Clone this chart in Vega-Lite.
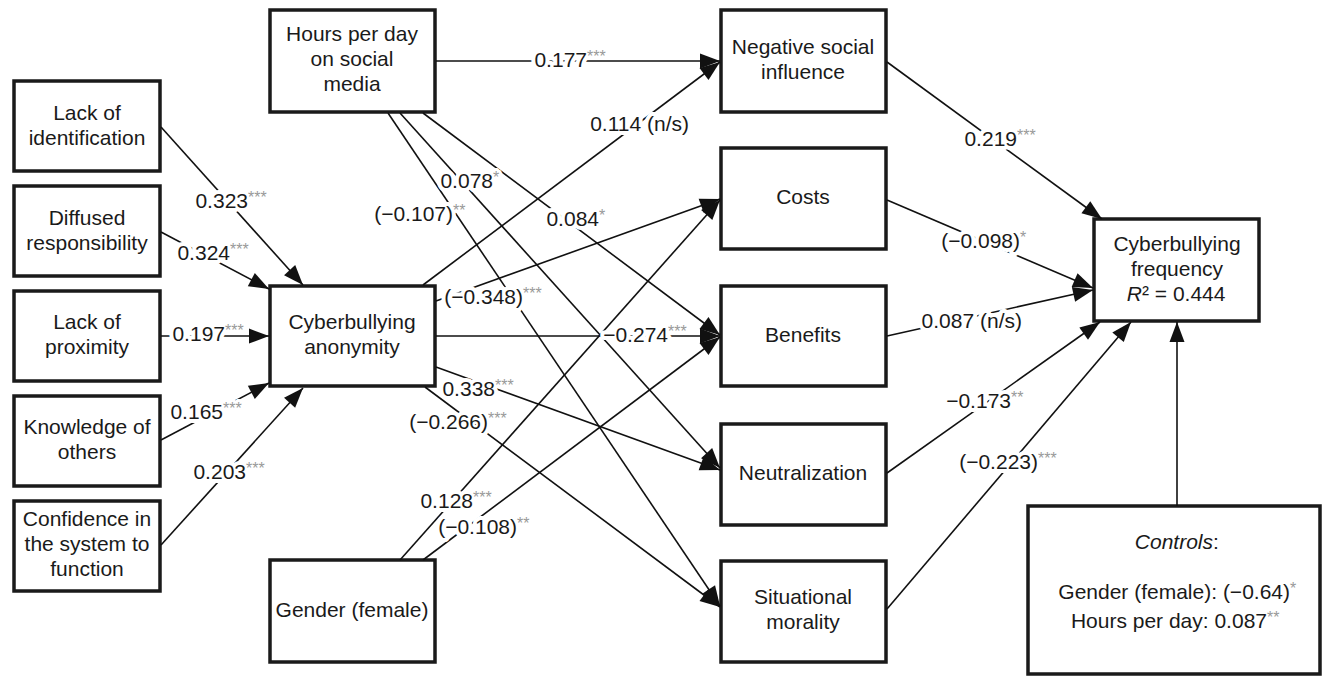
{
  "$schema": "https://vega.github.io/schema/vega-lite/v6.json",
  "width": 1323,
  "height": 677,
  "autosize": {"type": "fit", "contains": "padding"},
  "padding": 0,
  "background": "white",
  "config": {"view": {"stroke": null}},
  "datasets": {
    "boxes": [
      {"id": "Lack of identification", "x1": 14, "x2": 160, "y1": 81, "y2": 171},
      {"id": "Diffused responsibility", "x1": 14, "x2": 160, "y1": 186, "y2": 276},
      {"id": "Lack of proximity", "x1": 14, "x2": 160, "y1": 291, "y2": 381},
      {"id": "Knowledge of others", "x1": 14, "x2": 160, "y1": 396, "y2": 486},
      {"id": "Confidence in the system to function", "x1": 14, "x2": 160, "y1": 501, "y2": 591},
      {"id": "Hours per day on social media", "x1": 270, "x2": 435, "y1": 10, "y2": 112},
      {"id": "Cyberbullying anonymity", "x1": 270, "x2": 435, "y1": 286, "y2": 386},
      {"id": "Gender (female)", "x1": 270, "x2": 435, "y1": 560, "y2": 662},
      {"id": "Negative social influence", "x1": 721, "x2": 886, "y1": 10, "y2": 112},
      {"id": "Costs", "x1": 721, "x2": 886, "y1": 148, "y2": 249},
      {"id": "Benefits", "x1": 721, "x2": 886, "y1": 286, "y2": 386},
      {"id": "Neutralization", "x1": 721, "x2": 886, "y1": 424, "y2": 525},
      {"id": "Situational morality", "x1": 721, "x2": 886, "y1": 561, "y2": 662},
      {"id": "Cyberbullying frequency", "x1": 1094, "x2": 1259, "y1": 219, "y2": 321},
      {"id": "Controls", "x1": 1028, "x2": 1320, "y1": 506, "y2": 674}
    ],
    "boxlabels": [
      {"label": "Lack of\nidentification", "x": 87, "y": 114},
      {"label": "Diffused\nresponsibility", "x": 87, "y": 219},
      {"label": "Lack of\nproximity", "x": 87, "y": 323},
      {"label": "Knowledge of\nothers", "x": 87, "y": 428},
      {"label": "Confidence in\nthe system to\nfunction", "x": 87, "y": 520},
      {"label": "Hours per day\non social\nmedia", "x": 352, "y": 35},
      {"label": "Cyberbullying\nanonymity", "x": 352, "y": 323},
      {"label": "Gender (female)", "x": 352, "y": 611},
      {"label": "Negative social\ninfluence", "x": 803, "y": 48},
      {"label": "Costs", "x": 803, "y": 198},
      {"label": "Benefits", "x": 803, "y": 336},
      {"label": "Neutralization", "x": 803, "y": 474},
      {"label": "Situational\nmorality", "x": 803, "y": 598},
      {"label": "Cyberbullying\nfrequency", "x": 1177, "y": 245}
    ],
    "edges": [
      {"from": "Lack of identification", "to": "Cyberbullying anonymity", "x1": 161, "y1": 127, "x2": 303, "y2": 285},
      {"from": "Diffused responsibility", "to": "Cyberbullying anonymity", "x1": 161, "y1": 232, "x2": 269, "y2": 289},
      {"from": "Lack of proximity", "to": "Cyberbullying anonymity", "x1": 161, "y1": 336, "x2": 269, "y2": 336},
      {"from": "Knowledge of others", "to": "Cyberbullying anonymity", "x1": 161, "y1": 440, "x2": 269, "y2": 383},
      {"from": "Confidence in the system to function", "to": "Cyberbullying anonymity", "x1": 161, "y1": 545, "x2": 303, "y2": 388},
      {"from": "Hours per day on social media", "to": "Negative social influence", "x1": 436, "y1": 61, "x2": 720, "y2": 61},
      {"from": "Hours per day on social media", "to": "Benefits", "x1": 423, "y1": 113, "x2": 720, "y2": 335},
      {"from": "Hours per day on social media", "to": "Neutralization", "x1": 400, "y1": 113, "x2": 720, "y2": 468},
      {"from": "Hours per day on social media", "to": "Situational morality", "x1": 388, "y1": 113, "x2": 720, "y2": 606},
      {"from": "Cyberbullying anonymity", "to": "Negative social influence", "x1": 423, "y1": 285, "x2": 720, "y2": 62},
      {"from": "Cyberbullying anonymity", "to": "Costs", "x1": 436, "y1": 301, "x2": 720, "y2": 199},
      {"from": "Cyberbullying anonymity", "to": "Benefits", "x1": 436, "y1": 336, "x2": 720, "y2": 336},
      {"from": "Cyberbullying anonymity", "to": "Neutralization", "x1": 436, "y1": 367, "x2": 720, "y2": 470},
      {"from": "Cyberbullying anonymity", "to": "Situational morality", "x1": 425, "y1": 387, "x2": 720, "y2": 607},
      {"from": "Gender (female)", "to": "Costs", "x1": 400, "y1": 560, "x2": 720, "y2": 200},
      {"from": "Gender (female)", "to": "Benefits", "x1": 423, "y1": 560, "x2": 720, "y2": 337},
      {"from": "Negative social influence", "to": "Cyberbullying frequency", "x1": 887, "y1": 62, "x2": 1102, "y2": 219},
      {"from": "Costs", "to": "Cyberbullying frequency", "x1": 887, "y1": 200, "x2": 1093, "y2": 288},
      {"from": "Benefits", "to": "Cyberbullying frequency", "x1": 887, "y1": 336, "x2": 1093, "y2": 290},
      {"from": "Neutralization", "to": "Cyberbullying frequency", "x1": 887, "y1": 473, "x2": 1100, "y2": 322},
      {"from": "Situational morality", "to": "Cyberbullying frequency", "x1": 887, "y1": 609, "x2": 1131, "y2": 322},
      {"from": "Controls", "to": "Cyberbullying frequency", "x1": 1177, "y1": 506, "x2": 1177, "y2": 322}
    ],
    "elabels": [
      {"main": "0.323", "stars": "***", "x": 248, "y": 202},
      {"main": "0.324", "stars": "***", "x": 230, "y": 254},
      {"main": "0.197", "stars": "***", "x": 225, "y": 335},
      {"main": "0.165", "stars": "***", "x": 223, "y": 413},
      {"main": "0.203", "stars": "***", "x": 246, "y": 473},
      {"main": "0.177", "stars": "***", "x": 587, "y": 61},
      {"main": "0.114 (n/s)", "stars": "", "x": 689, "y": 125},
      {"main": "0.078", "stars": "*", "x": 493, "y": 182},
      {"main": "(−0.107)", "stars": "**", "x": 453, "y": 215},
      {"main": "0.084", "stars": "*", "x": 599, "y": 220},
      {"main": "(−0.348)", "stars": "***", "x": 523, "y": 298},
      {"main": "−0.274", "stars": "***", "x": 668, "y": 336},
      {"main": "0.338", "stars": "***", "x": 495, "y": 390},
      {"main": "(−0.266)", "stars": "***", "x": 488, "y": 423},
      {"main": "0.128", "stars": "***", "x": 473, "y": 502},
      {"main": "(−0.108)", "stars": "**", "x": 517, "y": 528},
      {"main": "0.219", "stars": "***", "x": 1017, "y": 140},
      {"main": "(−0.098)", "stars": "*", "x": 1020, "y": 242},
      {"main": "0.087 (n/s)", "stars": "", "x": 1022, "y": 322},
      {"main": "−0.173", "stars": "**", "x": 1011, "y": 402},
      {"main": "(−0.223)", "stars": "***", "x": 1038, "y": 463},
      {"main": "Gender (female): (−0.64)", "stars": "*", "x": 1290, "y": 593},
      {"main": "Hours per day: 0.087", "stars": "**", "x": 1267, "y": 622}
    ],
    "ital": [
      {"it": "R", "rest": "² = 0.444", "x": 1142, "y": 295},
      {"it": "Controls", "rest": ":", "x": 1213, "y": 543}
    ]
  },
  "layer": [
    {
      "data": {"name": "boxes"},
      "mark": {"type": "rect", "fill": "white", "stroke": "#1a1a1a", "strokeWidth": 3.5},
      "encoding": {
        "x": {"field": "x1", "type": "quantitative", "scale": {"domain": [0, 1323], "nice": false, "zero": false}, "axis": null},
        "x2": {"field": "x2"},
        "y": {"field": "y1", "type": "quantitative", "scale": {"domain": [0, 677], "nice": false, "zero": false, "reverse": true}, "axis": null},
        "y2": {"field": "y2"}
      }
    },
    {
      "data": {"name": "edges"},
      "mark": {"type": "rule", "color": "#111111", "strokeWidth": 1.6},
      "encoding": {
        "x": {"field": "x1", "type": "quantitative", "scale": {"domain": [0, 1323], "nice": false, "zero": false}, "axis": null},
        "x2": {"field": "x2"},
        "y": {"field": "y1", "type": "quantitative", "scale": {"domain": [0, 677], "nice": false, "zero": false, "reverse": true}, "axis": null},
        "y2": {"field": "y2"}
      }
    },
    {
      "data": {"name": "edges"},
      "transform": [{"calculate": "atan2(datum.x2 - datum.x1, datum.y1 - datum.y2) * 180 / PI", "as": "ang"}],
      "mark": {"type": "point", "shape": "M0,0L-0.75,2L0.75,2Z", "size": 400, "filled": true, "color": "#111111", "opacity": 1, "strokeWidth": 0},
      "encoding": {
        "x": {"field": "x2", "type": "quantitative", "scale": {"domain": [0, 1323], "nice": false, "zero": false}, "axis": null},
        "y": {"field": "y2", "type": "quantitative", "scale": {"domain": [0, 677], "nice": false, "zero": false, "reverse": true}, "axis": null},
        "angle": {"field": "ang", "type": "quantitative", "scale": null}
      }
    },
    {
      "data": {"name": "elabels"},
      "mark": {"type": "text", "align": "right", "baseline": "middle", "font": "Liberation Sans", "fontSize": 21, "fill": "white", "stroke": "white", "strokeWidth": 8, "strokeJoin": "round", "strokeOpacity": 1},
      "encoding": {
        "x": {"field": "x", "type": "quantitative", "scale": {"domain": [0, 1323], "nice": false, "zero": false}, "axis": null},
        "y": {"field": "y", "type": "quantitative", "scale": {"domain": [0, 677], "nice": false, "zero": false, "reverse": true}, "axis": null},
        "text": {"field": "main"}
      }
    },
    {
      "data": {"name": "elabels"},
      "mark": {"type": "text", "align": "left", "baseline": "middle", "dy": -4, "font": "Liberation Sans", "fontSize": 16, "fill": "white", "stroke": "white", "strokeWidth": 6, "strokeJoin": "round", "strokeOpacity": 1},
      "encoding": {
        "x": {"field": "x", "type": "quantitative", "scale": {"domain": [0, 1323], "nice": false, "zero": false}, "axis": null},
        "y": {"field": "y", "type": "quantitative", "scale": {"domain": [0, 677], "nice": false, "zero": false, "reverse": true}, "axis": null},
        "text": {"field": "stars"}
      }
    },
    {
      "data": {"name": "elabels"},
      "mark": {"type": "text", "align": "right", "baseline": "middle", "font": "Liberation Sans", "fontSize": 21, "color": "#1a1a1a"},
      "encoding": {
        "x": {"field": "x", "type": "quantitative", "scale": {"domain": [0, 1323], "nice": false, "zero": false}, "axis": null},
        "y": {"field": "y", "type": "quantitative", "scale": {"domain": [0, 677], "nice": false, "zero": false, "reverse": true}, "axis": null},
        "text": {"field": "main"}
      }
    },
    {
      "data": {"name": "elabels"},
      "mark": {"type": "text", "align": "left", "baseline": "middle", "dy": -4, "font": "Liberation Sans", "fontSize": 16, "color": "#999999"},
      "encoding": {
        "x": {"field": "x", "type": "quantitative", "scale": {"domain": [0, 1323], "nice": false, "zero": false}, "axis": null},
        "y": {"field": "y", "type": "quantitative", "scale": {"domain": [0, 677], "nice": false, "zero": false, "reverse": true}, "axis": null},
        "text": {"field": "stars"}
      }
    },
    {
      "data": {"name": "boxlabels"},
      "mark": {"type": "text", "align": "center", "baseline": "middle", "lineBreak": "\n", "lineHeight": 25, "font": "Liberation Sans", "fontSize": 21, "color": "#1a1a1a"},
      "encoding": {
        "x": {"field": "x", "type": "quantitative", "scale": {"domain": [0, 1323], "nice": false, "zero": false}, "axis": null},
        "y": {"field": "y", "type": "quantitative", "scale": {"domain": [0, 677], "nice": false, "zero": false, "reverse": true}, "axis": null},
        "text": {"field": "label"}
      }
    },
    {
      "data": {"name": "ital"},
      "mark": {"type": "text", "align": "right", "baseline": "middle", "font": "Liberation Sans", "fontSize": 21, "fontStyle": "italic", "color": "#1a1a1a"},
      "encoding": {
        "x": {"field": "x", "type": "quantitative", "scale": {"domain": [0, 1323], "nice": false, "zero": false}, "axis": null},
        "y": {"field": "y", "type": "quantitative", "scale": {"domain": [0, 677], "nice": false, "zero": false, "reverse": true}, "axis": null},
        "text": {"field": "it"}
      }
    },
    {
      "data": {"name": "ital"},
      "mark": {"type": "text", "align": "left", "baseline": "middle", "font": "Liberation Sans", "fontSize": 21, "color": "#1a1a1a"},
      "encoding": {
        "x": {"field": "x", "type": "quantitative", "scale": {"domain": [0, 1323], "nice": false, "zero": false}, "axis": null},
        "y": {"field": "y", "type": "quantitative", "scale": {"domain": [0, 677], "nice": false, "zero": false, "reverse": true}, "axis": null},
        "text": {"field": "rest"}
      }
    }
  ]
}
